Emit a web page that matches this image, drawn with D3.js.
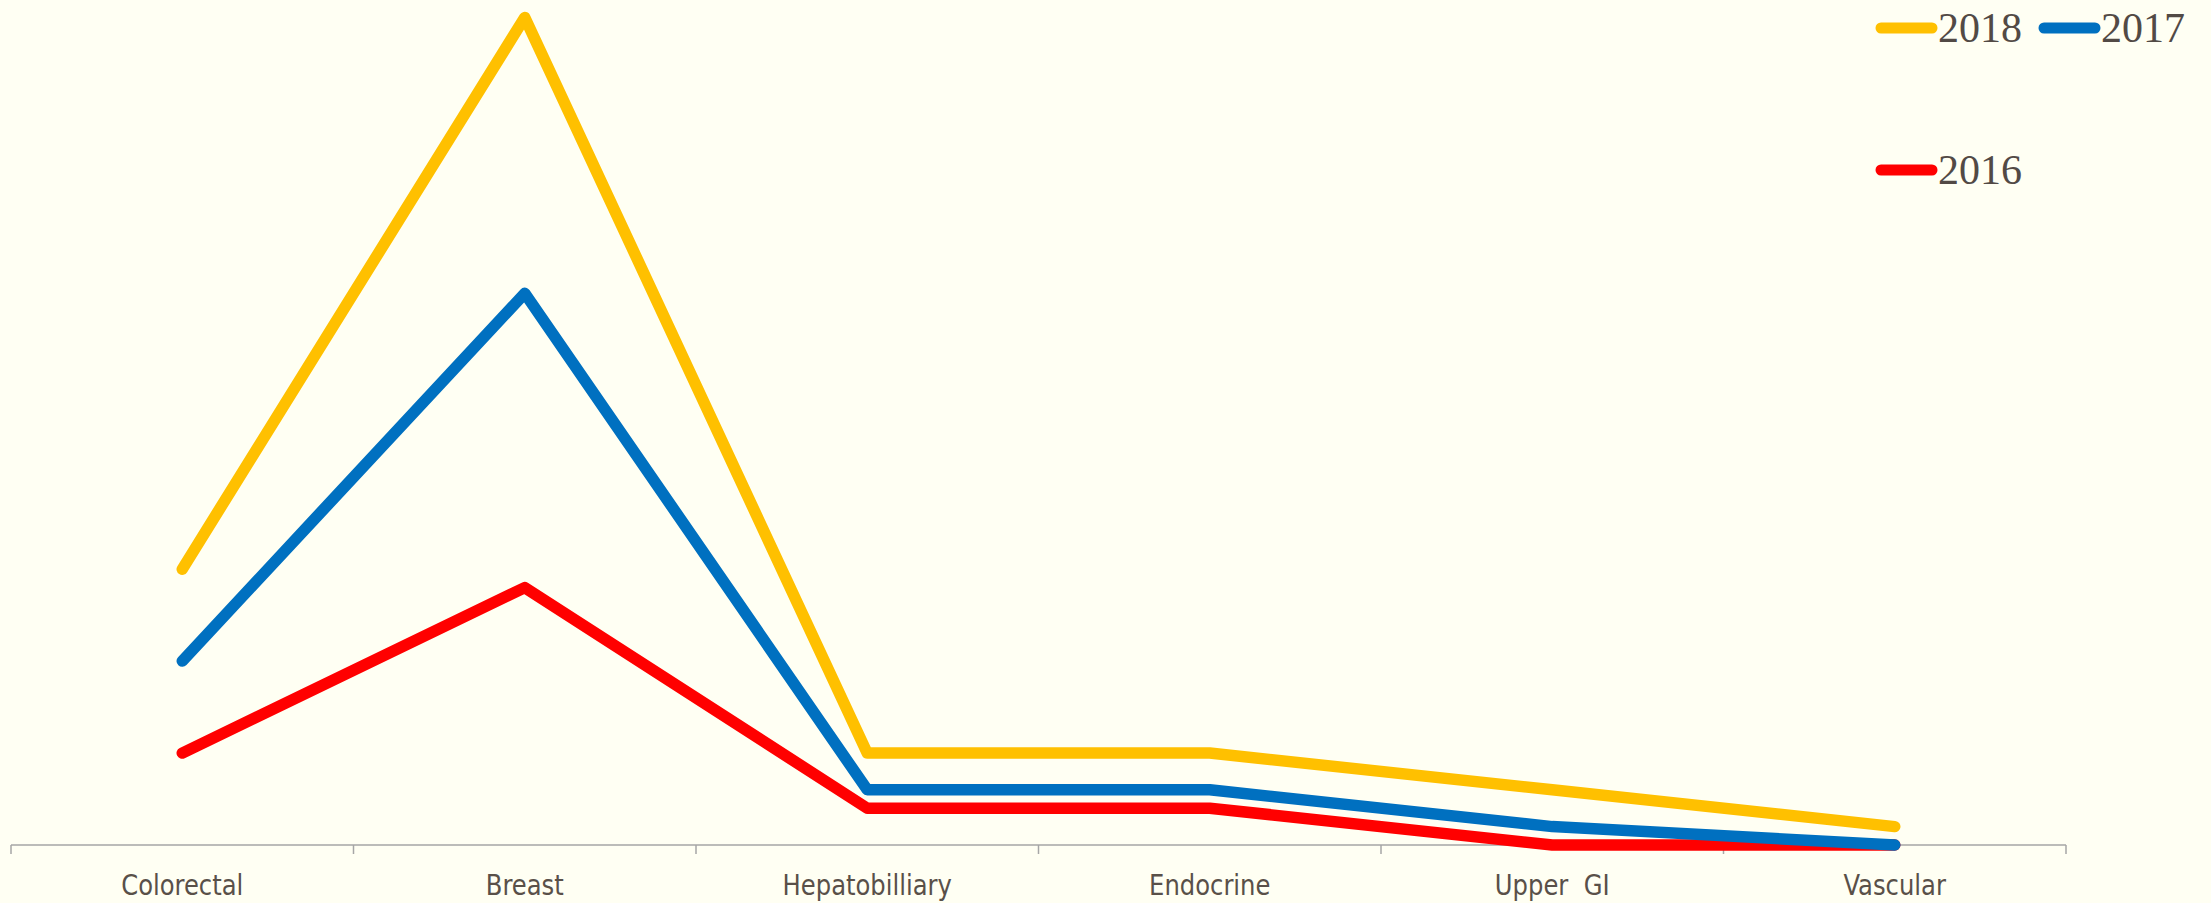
<!DOCTYPE html>
<html><head><meta charset="utf-8">
<script src="https://cdn.jsdelivr.net/npm/d3@7"></script>
<style>
html,body{margin:0;padding:0;background:#FFFFF3;}
svg{display:block;}
</style></head><body>
<svg id="chart" width="2211" height="903"></svg>
<script>
const categories = ["Colorectal", "Breast", "Hepatobilliary", "Endocrine", "Upper  GI", "Vascular"];
const seriesNames = ["2018", "2017", "2016"];
const values2018 = [15, 45, 5, 5, 3, 1];
const values2017 = [10, 30, 3, 3, 1, 0];
const values2016 = [5, 14, 2, 2, 0, 0];
const colors = {"2018": "#FFC000", "2017": "#0070C0", "2016": "#FF0000"};

const series = [
  {name: "2016", values: values2016},
  {name: "2017", values: values2017},
  {name: "2018", values: values2018}
];

const svg = d3.select("#chart");
svg.append("rect").attr("width", 2211).attr("height", 903).attr("fill", "#FFFFF3");

const x = d3.scaleBand().domain(categories).range([11, 2066]).padding(0);
const y = d3.scaleLinear().domain([0, 45]).range([845, 17.5]);

// axis
const axisG = svg.append("g").attr("transform", "translate(0,845)");
axisG.append("line").attr("x1", x.range()[0]).attr("x2", x.range()[1])
  .attr("stroke", "#A6A6A6").attr("stroke-width", 1.5);
const bounds = categories.map(c => x(c)).concat([x.range()[1]]);
axisG.selectAll("line.tick").data(bounds).join("line").attr("class", "tick")
  .attr("x1", d => d).attr("x2", d => d).attr("y1", 0).attr("y2", 9)
  .attr("stroke", "#A6A6A6").attr("stroke-width", 1.5);
const xAxis = d3.axisBottom(x).tickSize(0).tickPadding(0);
const labelsG = svg.append("g").attr("transform", "translate(0,845)").call(xAxis);
labelsG.select(".domain").remove();
labelsG.selectAll("text")
  .attr("dy", null).attr("y", 50)
  .attr("transform", "scale(0.93,1)")
  .style("font-family", "'Liberation Sans Narrow','DejaVu Sans Condensed',sans-serif")
  .style("font-size", "29px").attr("fill", "#595049")
  .style("white-space", "pre");

// lines
const line = d3.line().x((d, i) => x(categories[i]) + x.bandwidth() / 2).y(d => y(d));
svg.selectAll("path.series").data(series).join("path").attr("class", "series")
  .attr("d", d => line(d.values))
  .attr("fill", "none").attr("stroke", d => colors[d.name])
  .attr("stroke-width", 11.5).attr("stroke-linecap", "round").attr("stroke-linejoin", "round");

// legend
const legendItems = [
  {name: "2018", lx: 1881, ly: 28},
  {name: "2017", lx: 2044, ly: 28},
  {name: "2016", lx: 1881, ly: 170}
];
const lg = svg.append("g");
legendItems.forEach(it => {
  lg.append("line").attr("x1", it.lx).attr("x2", it.lx + 51).attr("y1", it.ly).attr("y2", it.ly)
    .attr("stroke", colors[it.name]).attr("stroke-width", 11).attr("stroke-linecap", "round");
  lg.append("text").attr("x", it.lx + 57).attr("y", it.ly + 14)
    .style("font-family", "'Liberation Serif','Times New Roman',serif")
    .style("font-size", "42px").attr("fill", "#524A45").text(it.name);
});
</script>
</body></html>
